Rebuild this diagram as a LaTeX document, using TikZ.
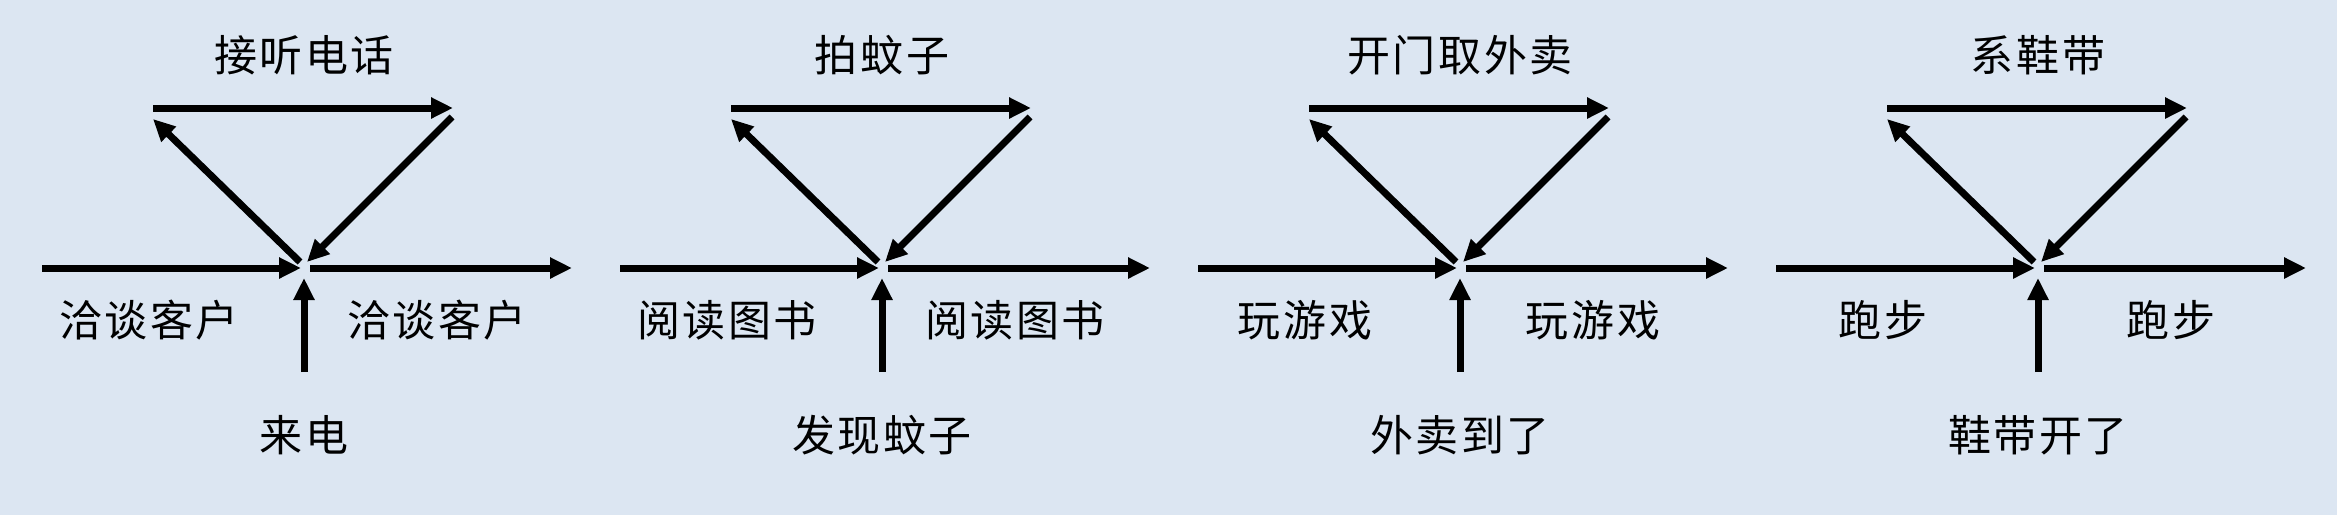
\documentclass[tikz,border=0pt]{standalone}
\usepackage{fontspec}
\newfontfamily\cjk[LetterSpace=6]{Noto Sans CJK SC}
\usetikzlibrary{arrows.meta}

\begin{document}
\begin{tikzpicture}[x=1pt,y=-1pt]
% ------------------------------------------------ colors and styles
\definecolor{bg_blue}{RGB}{220,230,242} %#DCE6F2
\tikzset{flow/.style={line width=7pt,-{Triangle[length=22pt,width=20pt]}},
  lbl/.style={font=\cjk\fontsize{43}{50}\selectfont,inner sep=0pt}}

\fill[bg_blue] (0,0) rectangle (2337,515);
\useasboundingbox (0,0) rectangle (2337,515);

% ------------------------------------------------ one panel per interrupt
\foreach \n/\x/\task/\main/\cause in {1/304/接听电话/洽谈客户/来电,
    2/882/拍蚊子/阅读图书/发现蚊子,
    3/1460/开门取外卖/玩游戏/外卖到了,
    4/2038/系鞋带/跑步/鞋带开了}{
  \begin{scope}[shift={(\x,268)}]
    \coordinate (in\n)   at (-262,0);   \coordinate (inend\n)  at (-3,0);
    \coordinate (out\n)  at (6,0);      \coordinate (outend\n) at (268,0);
    \coordinate (irq\n)  at (0,104);    \coordinate (irqend\n) at (0,10);
    \coordinate (lo\n)   at (-4,-6);    \coordinate (tl\n)     at (-151,-149);
    \coordinate (ta\n)   at (-151,-160);\coordinate (tb\n)     at (149,-160);
    \coordinate (tr\n)   at (148,-151); \coordinate (ro\n)     at (3,-6);

    \draw[flow] (in\n) -- (inend\n);
    \draw[flow] (out\n) -- (outend\n);
    \draw[flow] (irq\n) -- (irqend\n);
    \draw[flow] (lo\n) -- (tl\n);
    \draw[flow] (ta\n) -- (tb\n);
    \draw[flow] (tr\n) -- (ro\n);

    \node[lbl] (task\n)  at (0,-213)  {\task};
    \node[lbl] (before\n) at (-155,52) {\main};
    \node[lbl] (after\n) at (133,52)  {\main};
    \node[lbl] (cause\n) at (0,167)   {\cause};
  \end{scope}
}

\end{tikzpicture}
\end{document}
